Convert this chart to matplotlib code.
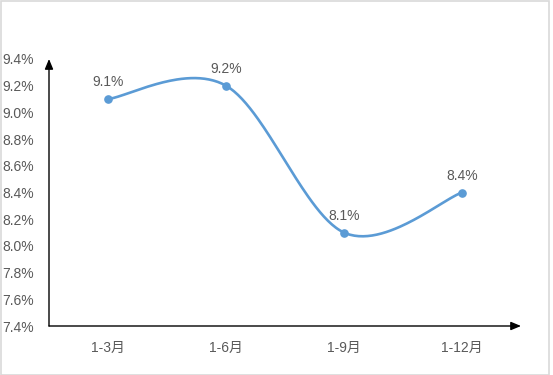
import matplotlib.pyplot as plt
from matplotlib.patches import Rectangle
import numpy as np

plt.rcParams['font.family'] = ['Liberation Sans', 'Noto Sans CJK SC']

categories = ['1-3月', '1-6月', '1-9月', '1-12月']
growth = [9.1, 9.2, 8.1, 8.4]
point_labels = ['9.1%', '9.2%', '8.1%', '8.4%']
yticks = [7.4, 7.6, 7.8, 8.0, 8.2, 8.4, 8.6, 8.8, 9.0, 9.2, 9.4]

LINE = '#5b9bd5'
GRAY = '#595959'


def smooth(xs, ys, n=60):
    # Excel-like smoothing: Catmull-Rom done as cubic Bezier segments
    pts = np.column_stack([xs, ys]).astype(float)
    padded = np.vstack([pts[0], pts, pts[-1]])
    out = []
    for i in range(len(pts) - 1):
        p0, p1 = padded[i + 1], padded[i + 2]
        b1 = p0 + (p1 - padded[i]) / 6
        b2 = p1 - (padded[i + 3] - p0) / 6
        t = np.linspace(0, 1, n)[:, None]
        seg = ((1 - t) ** 3) * p0 + 3 * ((1 - t) ** 2) * t * b1 + 3 * (1 - t) * t ** 2 * b2 + t ** 3 * p1
        out.append(seg if i == 0 else seg[1:])
    curve = np.vstack(out)
    return curve[:, 0], curve[:, 1]


fig = plt.figure(figsize=(5.53, 3.75), dpi=100)
ax = fig.add_axes([49 / 553, 49 / 375, 472 / 553, 267 / 375])

x = np.arange(len(categories))
sx, sy = smooth(x, growth)
ax.plot(sx, sy, color=LINE, lw=1.9, solid_capstyle='round')
ax.plot(x, growth, 'o', color=LINE, ms=5.2)

for xi, yi, lab in zip(x, growth, point_labels):
    ax.annotate(lab, (xi, yi), xytext=(0, 7), textcoords='offset points',
                ha='center', va='bottom', fontsize=10, color=GRAY)

ax.set_xlim(-0.5, 3.5)
ax.set_ylim(7.4, 9.4)
ax.set_yticks(yticks)
ax.set_yticklabels([f'{v:.1f}%' for v in yticks])
ax.set_xticks(x)
ax.set_xticklabels(categories)
ax.tick_params(axis='y', length=0, pad=11, labelsize=10, labelcolor=GRAY)
ax.tick_params(axis='x', length=0, pad=11, labelsize=10, labelcolor=GRAY)
for s in ax.spines.values():
    s.set_visible(False)

# axis arrows
arrow = dict(arrowstyle='-|>,head_length=0.6,head_width=0.25', color='black', lw=1.0,
             shrinkA=0, shrinkB=0)
ax.annotate('', xy=(0, 1.0), xytext=(0, 0), xycoords='axes fraction',
            textcoords='axes fraction', arrowprops=arrow, annotation_clip=False)
ax.annotate('', xy=(1.0, 0), xytext=(0, 0), xycoords='axes fraction',
            textcoords='axes fraction', arrowprops=arrow, annotation_clip=False)

# light frame around chart area
fig.patches.append(Rectangle((0.5 / 553, 0.5 / 375), 548 / 553, 373.5 / 375,
                             transform=fig.transFigure, fill=False,
                             edgecolor='#d9d9d9', lw=1.2))

fig.savefig('out.png', dpi=100)
